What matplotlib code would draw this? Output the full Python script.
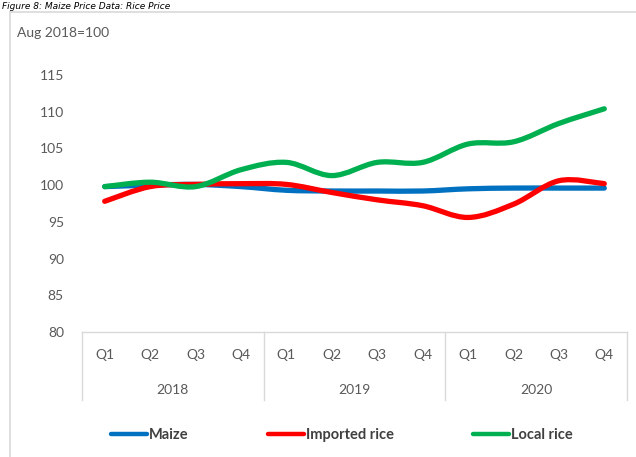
import matplotlib.pyplot as plt
from matplotlib.path import Path
from matplotlib.patches import PathPatch
from matplotlib.lines import Line2D
import matplotlib.transforms as mtransforms
import numpy as np

plt.rcParams['font.family'] = ['Lato', 'DejaVu Sans']

# Data
quarters = ['Q1', 'Q2', 'Q3', 'Q4'] * 3
years = ['2018', '2019', '2020']
maize = [99.8, 100.0, 100.1, 99.8, 99.3, 99.2, 99.2, 99.2, 99.5, 99.6, 99.6, 99.6]
imported_rice = [97.8, 99.8, 100.1, 100.2, 100.1, 99.0, 98.0, 97.2, 95.6, 97.4, 100.6, 100.2]
local_rice = [99.8, 100.4, 99.8, 102.1, 103.1, 101.3, 103.1, 103.1, 105.6, 105.9, 108.4, 110.4]

series = [
    ('Maize', maize, '#0070C0'),
    ('Imported rice', imported_rice, '#FF0000'),
    ('Local rice', local_rice, '#00B050'),
]

grey = '#595959'
frame = '#D9D9D9'


def smooth_path(x, y):
    # Excel-like smoothed line: cubic Bezier segments through the points
    pts = np.column_stack([x, y]).astype(float)
    ext = np.vstack([pts[0], pts, pts[-1]])
    verts = [pts[0]]
    codes = [Path.MOVETO]
    for i in range(1, len(ext) - 2):
        p0, p1, p2, p3 = ext[i - 1], ext[i], ext[i + 1], ext[i + 2]
        c1 = p1 + (p2 - p0) / 6.0
        c2 = p2 - (p3 - p1) / 6.0
        verts += [c1, c2, p2]
        codes += [Path.CURVE4] * 3
    return Path(verts, codes)


fig = plt.figure(figsize=(6.36, 4.57), dpi=100)
ax = fig.add_axes([82 / 636, 1 - 332 / 457, 545 / 636, 257 / 457])

x = np.arange(len(quarters))
handles = []
for name, vals, col in series:
    patch = PathPatch(smooth_path(x, vals), fill=False, edgecolor=col,
                      lw=3.8, capstyle='round', joinstyle='round')
    ax.add_patch(patch)
    handles.append(Line2D([], [], color=col, lw=3.2, solid_capstyle='round', label=name))

ax.set_xlim(-0.5, 11.5)
ax.set_ylim(80, 115)
ax.set_yticks(range(80, 116, 5))
ax.tick_params(axis='y', length=0, pad=13, labelsize=10, labelcolor=grey)
ax.set_xticks([])
for s in ['top', 'right', 'left']:
    ax.spines[s].set_visible(False)
ax.spines['bottom'].set_color(frame)
ax.spines['bottom'].set_linewidth(1)

# Two-level category axis
trans = mtransforms.blended_transform_factory(ax.transData, ax.transAxes)
for i, q in enumerate(quarters):
    ax.text(i, -23 / 257, q, transform=trans, ha='center', va='center',
            fontsize=10, color=grey)
for j, yr in enumerate(years):
    ax.text(4 * j + 1.5, -58 / 257, yr, transform=trans, ha='center', va='center',
            fontsize=10, color=grey)
for xb in [-0.5, 3.5, 7.5, 11.5]:
    ax.plot([xb, xb], [0, -68 / 257], transform=trans, color=frame, lw=1, clip_on=False)

# Outer chart frame
fig.add_artist(Line2D([10 / 636, 10 / 636], [0, 1 - 12 / 457], color=frame, lw=1.2,
                      transform=fig.transFigure))
fig.add_artist(Line2D([10 / 636, 1], [1 - 12 / 457, 1 - 12 / 457], color=frame, lw=1.2,
                      transform=fig.transFigure))

fig.text(17 / 636, 1 - 33 / 457, 'Aug 2018=100', ha='left', va='center',
         fontsize=10, color=grey)

# Caption above the chart frame (cut off in the source picture)
fig.text(2 / 636, 1 - 9 / 457, 'Figure 8: Maize Price Data: Rice Price', ha='left',
         va='baseline', fontsize=6.5, style='italic', color='black',
         family=['DejaVu Sans'])

fig.legend(handles=handles, loc='center left', bbox_to_anchor=(111 / 636, 1 - 435 / 457),
           ncol=3, frameon=False, borderpad=0, borderaxespad=0, handlelength=2.45,
           handletextpad=0.15, columnspacing=5.45,
           prop={'size': 10.5, 'weight': 'bold'}, labelcolor='#404040')

fig.savefig('out.png', dpi=100)
